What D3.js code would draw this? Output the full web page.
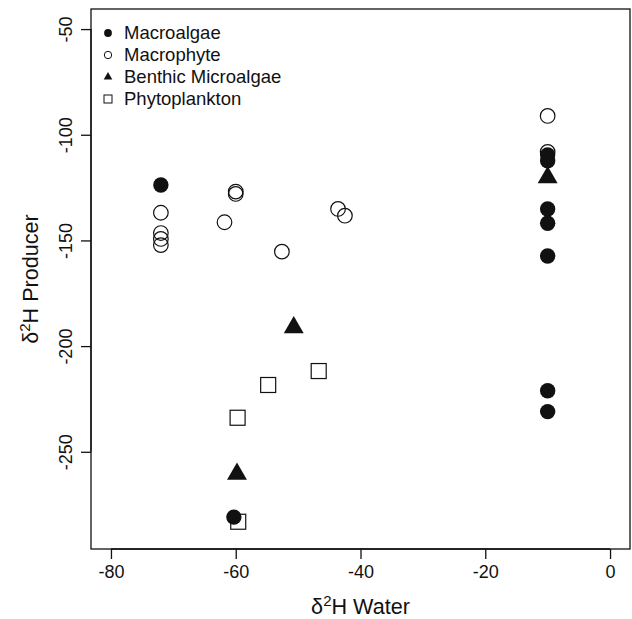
<!DOCTYPE html>
<html>
<head>
<meta charset="utf-8">
<script src="https://cdn.jsdelivr.net/npm/d3@7"></script>
<style>
  body { margin: 0; background: #fff; }
  svg { display: block; font-family: "Liberation Sans", Arial, Helvetica, sans-serif; }
</style>
</head>
<body>
<div id="chart"></div>
<script>
// values (x = d2H water, y = d2H producer)
const macrophyteX = [-72, -72, -72, -72, -60, -60, -61.8, -52.6, -43.6, -42.5, -10, -10];
const macrophyteY = [-136.9, -146.5, -149.3, -152.2, -126.9, -128.0, -141.4, -155.3, -135.1, -138.3, -91.1, -108.1];

const phytoX = [-46.7, -54.8, -59.7, -59.6];
const phytoY = [-211.8, -218.4, -233.9, -283.1];

const benthicX = [-50.7, -59.8, -10];
const benthicY = [-191.2, -260.5, -120.2];

const macroalgaeX = [-72, -60.3, -10, -10, -10, -10, -10, -10, -10];
const macroalgaeY = [-123.8, -280.9, -109.5, -112.3, -135.1, -141.9, -157.4, -221.1, -231.0];

const xTicks = [-80, -60, -40, -20, 0];
const yTicks = [-50, -100, -150, -200, -250];
const legendLabels = ["Macroalgae", "Macrophyte", "Benthic Microalgae", "Phytoplankton"];

const W = 632, H = 619;
const box = {left: 91, right: 630, top: 9, bottom: 549};
const ink = "#111";

const svg = d3.select("#chart").append("svg")
    .attr("width", W)
    .attr("height", H);

const x = d3.scaleLinear().domain([-83.2, 3.2]).range([box.left, box.right]);
const y = d3.scaleLinear().domain([-296, -40.5]).range([box.bottom, box.top]);

const zip = (xs, ys) => xs.map((v, i) => ({x: v, y: ys[i]}));
// R prints a plain hyphen, not the unicode minus
const plainNum = d => String(d);

// plot frame
svg.append("rect")
    .attr("x", box.left).attr("y", box.top)
    .attr("width", box.right - box.left).attr("height", box.bottom - box.top)
    .attr("fill", "none").attr("stroke", ink).attr("stroke-width", 1.3);

// x axis
const xAxis = svg.append("g")
    .attr("transform", "translate(0," + box.bottom + ")")
    .call(d3.axisBottom(x).tickValues(xTicks).tickSize(10).tickPadding(6).tickFormat(plainNum));
xAxis.select(".domain").attr("d", "M" + x(-80) + ",0H" + x(0)).attr("stroke", ink).attr("stroke-width", 1.3);
xAxis.selectAll(".tick line").attr("stroke", ink).attr("stroke-width", 1.3);
xAxis.selectAll(".tick text").attr("font-size", 18).attr("fill", ink).attr("font-family", null);

// y axis, labels turned like R
const yAxis = svg.append("g")
    .attr("transform", "translate(" + box.left + ",0)")
    .call(d3.axisLeft(y).tickValues(yTicks).tickSize(10).tickFormat(plainNum));
yAxis.select(".domain").attr("d", "M0," + y(-50) + "V" + y(-250)).attr("stroke", ink).attr("stroke-width", 1.3);
yAxis.selectAll(".tick line").attr("stroke", ink).attr("stroke-width", 1.3);
yAxis.selectAll(".tick text")
    .attr("x", null).attr("dy", null)
    .attr("font-size", 18).attr("fill", ink).attr("font-family", null)
    .attr("text-anchor", "middle")
    .attr("transform", "translate(-19,0) rotate(-90)");

// axis titles
const xt = svg.append("text")
    .attr("x", (box.left + box.right) / 2).attr("y", 614)
    .attr("text-anchor", "middle").attr("font-size", 21.6).attr("fill", ink);
xt.append("tspan").text("δ");
xt.append("tspan").attr("dy", -8).attr("font-size", 15).text("2");
xt.append("tspan").attr("dy", 8).text("H Water");

const yt = svg.append("text")
    .attr("transform", "translate(38," + (box.top + box.bottom) / 2 + ") rotate(-90)")
    .attr("text-anchor", "middle").attr("font-size", 21.6).attr("fill", ink);
yt.append("tspan").text("δ");
yt.append("tspan").attr("dy", -8).attr("font-size", 15).text("2");
yt.append("tspan").attr("dy", 8).text("H Producer");

// points
const plot = svg.append("g");
const tri = d3.symbol().type(d3.symbolTriangle);

plot.selectAll(".mp").data(zip(macrophyteX, macrophyteY)).enter().append("circle")
    .attr("cx", d => x(d.x)).attr("cy", d => y(d.y)).attr("r", 7.3)
    .attr("fill", "none").attr("stroke", ink).attr("stroke-width", 1.2);

plot.selectAll(".ph").data(zip(phytoX, phytoY)).enter().append("rect")
    .attr("x", d => x(d.x) - 7.5).attr("y", d => y(d.y) - 7.5)
    .attr("width", 15).attr("height", 15)
    .attr("fill", "#fff").attr("stroke", ink).attr("stroke-width", 1.2);

plot.selectAll(".bm").data(zip(benthicX, benthicY)).enter().append("path")
    .attr("d", tri.size(172)())
    .attr("transform", d => "translate(" + x(d.x) + "," + y(d.y) + ")")
    .attr("fill", ink);

plot.selectAll(".ma").data(zip(macroalgaeX, macroalgaeY)).enter().append("circle")
    .attr("cx", d => x(d.x)).attr("cy", d => y(d.y)).attr("r", 7.7)
    .attr("fill", ink);

// legend (no box)
const lg = svg.append("g").attr("transform", "translate(108,33)");
const rows = lg.selectAll("g").data(legendLabels).enter().append("g")
    .attr("transform", (d, i) => "translate(0," + i * 22 + ")");
rows.append("text").attr("x", 16).attr("dy", "0.35em")
    .attr("font-size", 18.5).attr("fill", ink).text(d => d);
rows.each(function (d, i) {
    const g = d3.select(this);
    if (i === 0) g.append("circle").attr("r", 3.9).attr("fill", ink);
    if (i === 1) g.append("circle").attr("r", 3.7).attr("fill", "none").attr("stroke", ink).attr("stroke-width", 1);
    if (i === 2) g.append("path").attr("d", tri.size(32)()).attr("fill", ink);
    if (i === 3) g.append("rect").attr("x", -4).attr("y", -4).attr("width", 8).attr("height", 8)
        .attr("fill", "none").attr("stroke", ink).attr("stroke-width", 1);
});
</script>
</body>
</html>
